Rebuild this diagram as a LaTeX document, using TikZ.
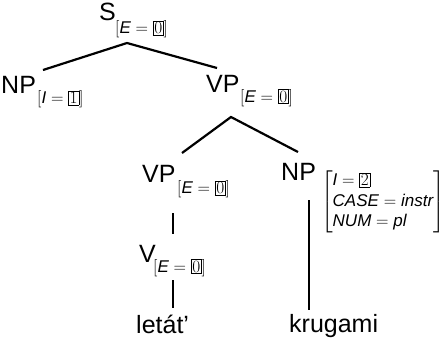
\documentclass[tikz,border=0pt]{standalone}
\usepackage{fontspec}
\setmainfont{Liberation Sans}
\usepackage{amsmath}
\newcommand{\fbx}[1]{{\setlength{\fboxsep}{1pt}\boxed{#1}}}
\tikzset{
  lab/.style={inner sep=0pt, anchor=base west, font=\fontsize{25}{30}\selectfont},
  feat/.style={inner sep=0pt, anchor=base west, font=\fontsize{17}{20}\selectfont},
  avm/.style={inner sep=0pt, anchor=west, font=\fontsize{17}{20.5}\selectfont},
  branch/.style={line width=2.2pt}
}
\begin{document}
\begin{tikzpicture}[x=1pt,y=-1pt]
\useasboundingbox (0,0) rectangle (444,338);
% labels
\node[lab] (S) at (99,20) {S};
\node[feat] (Sf) at (115,33.5) {$[\textit{E}=\fbx{0}]$};
\node[lab] (NPa) at (1,93) {NP};
\node[feat] (NPaf) at (37,103.5) {$[\textit{I}=\fbx{1}]$};
\node[lab] (VPa) at (206,92) {VP};
\node[feat] (VPaf) at (240,102) {$[\textit{E}=\fbx{0}]$};
\node[lab] (VPb) at (142,182) {VP};
\node[feat] (VPbf) at (177,193.5) {$[\textit{E}=\fbx{0}]$};
\node[lab] (NPb) at (281,180) {NP};
\node[avm] (NPbf) at (321,202) {$\left[\begin{array}{@{}l@{}}\textit{I}=\fbx{2}\\ \textit{CASE}=\textit{instr}\\ \textit{NUM}=\textit{pl}\end{array}\right]$};
\node[lab] (V) at (139,262) {V};
\node[feat] (Vf) at (153,272) {$[\textit{E}=\fbx{0}]$};
\node[lab] (W1) at (136,333) {let\'at’};
\node[lab] (W2) at (289,332) {krugami};
% attachment points
\coordinate (S-b) at (127,43);
\coordinate (NPa-t) at (43,70);
\coordinate (VPa-t) at (217,68);
\coordinate (VPa-b) at (231,117);
\coordinate (VPb-t) at (182,153);
\coordinate (NPb-t) at (298,152);
\coordinate (VPb-b) at (173,213);
\coordinate (V-t) at (173,234);
\coordinate (V-b) at (173,280);
\coordinate (W1-t) at (173,308);
\coordinate (NPb-b) at (309,200);
\coordinate (W2-t) at (309,310);
% branches
\draw[branch] (NPa-t) -- (S-b) -- (VPa-t);
\draw[branch] (VPb-t) -- (VPa-b) -- (NPb-t);
\draw[branch] (VPb-b) -- (V-t);
\draw[branch] (V-b) -- (W1-t);
\draw[branch] (NPb-b) -- (W2-t);
\end{tikzpicture}
\end{document}
